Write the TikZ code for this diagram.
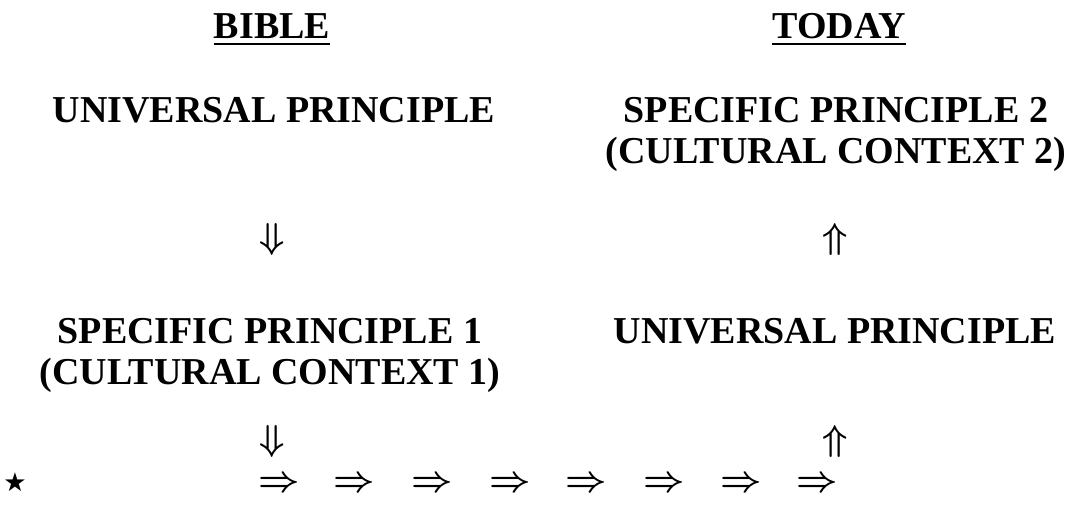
\RequirePackage{fix-cm}
\documentclass[tikz,border=0pt]{standalone}
\usepackage{fontspec}
\setmainfont{Liberation Serif}
\newfontfamily\symfont{DejaVu Sans}
\begin{document}
\begin{tikzpicture}[x=1pt,y=-1pt,
  lbl/.style={inner sep=0pt, anchor=base, align=center, font=\fontsize{38}{41}\selectfont\bfseries},
  hd/.style={lbl},
  arr/.style={inner sep=0pt, anchor=center, font=\fontsize{36}{36}\selectfont\boldmath},
  uline/.style={line width=2pt}]
\useasboundingbox[fill=white] (0,0) rectangle (1077,505);
\node[hd] (bible) at (272,39) {BIBLE};
\node[hd] (today) at (839,39) {TODAY};
\draw[uline] ([yshift=-5pt]bible.base west) -- ([yshift=-5pt]bible.base east);
\draw[uline] ([yshift=-5pt]today.base west) -- ([yshift=-5pt]today.base east);
\node[lbl] (up1) at (274,123) {UNIVERSAL PRINCIPLE};
\node[lbl] (sp2a) at (836,123) {SPECIFIC PRINCIPLE 2};
\node[lbl] (sp2b) at (836,164) {(CULTURAL CONTEXT 2)};
\node[arr] (d1) at (272,240) {$\Downarrow$};
\node[arr] (u1) at (835,240) {$\Uparrow$};
\node[lbl] (sp1a) at (270,343) {SPECIFIC PRINCIPLE 1};
\node[lbl] (sp1b) at (270,384) {(CULTURAL CONTEXT 1)};
\node[lbl] (up2) at (835,343) {UNIVERSAL PRINCIPLE};
\node[arr] (d2) at (272,441) {$\Downarrow$};
\node[arr] (u2) at (835,441) {$\Uparrow$};
\node[inner sep=0pt, font=\fontsize{26}{26}\selectfont\symfont] (star) at (15,482) {★};
\foreach \i/\x in {1/279,2/354,3/432,4/510,5/586,6/664,7/741,8/817}{
  \node[arr] (r\i) at (\x,484) {$\Rightarrow$};
}
\end{tikzpicture}
\end{document}
